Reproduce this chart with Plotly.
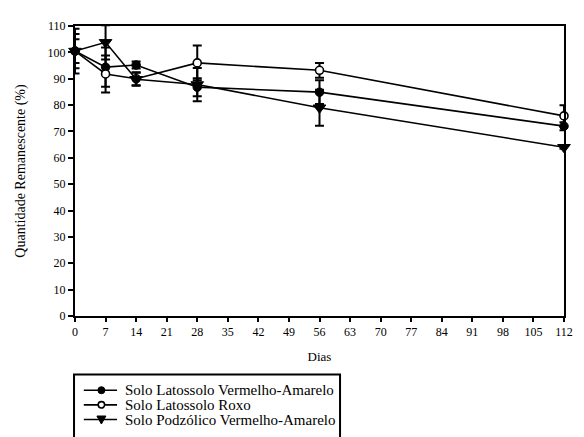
import plotly.graph_objects as go

dias = [0, 7, 14, 28, 56, 112]
tick_vals = list(range(0, 113, 7))

nomes = ["Solo Latossolo Vermelho-Amarelo", "Solo Latossolo Roxo", "Solo Podzólico Vermelho-Amarelo"]

lva = [100.5, 94.4, 95.2, 86.8, 84.9, 72.0]
lva_err = [6.5, 7.4, 1.3, 3.4, 4.5, 1.5]

lr = [100.5, 91.8, 90.0, 96.0, 93.2, 75.9]
lr_err = [4.5, 7.0, 2.5, 6.6, 2.8, 4.0]

pva = [100.5, 103.8, 89.8, 87.8, 79.0, 64.0]
pva_err = [8.5, 6.5, 2.5, 6.3, 6.8, 0.6]

FONT = "Liberation Serif, Times New Roman, serif"

fig = go.Figure()

styles = [
    dict(symbol="circle", size=8.5, color="black", line=dict(color="black", width=1)),
    dict(symbol="circle", size=8, color="white", line=dict(color="black", width=1.6)),
    dict(symbol="triangle-down", size=11, color="black", line=dict(color="black", width=1)),
]

for name, ys, errs, mk in zip(nomes, [lva, lr, pva], [lva_err, lr_err, pva_err], styles):
    fig.add_trace(go.Scatter(
        x=dias, y=ys, name=name, mode="lines+markers",
        line=dict(color="black", width=1.6),
        marker=mk,
        error_y=dict(type="data", array=errs, visible=True, color="black", thickness=2, width=4.5),
        cliponaxis=False, showlegend=False,
    ))

# Page has an 8px body offset; figure is sized so the plot lands where the reference's does.
W, H = 576, 429
ML, MR, MT, MB = 63, 13, 11, 121
PW = W - ML - MR
PH = H - MT - MB


def px_x(px):
    # page x pixel -> paper x
    return (px - 8 - ML) / PW


def px_y(py):
    # page y pixel -> paper y
    return ((H - MB) - (py - 8)) / PH


shapes = []
annotations = []

# legend box (cut off by bottom of page, as in the reference)
shapes.append(dict(type="rect", xref="paper", yref="paper",
                   x0=px_x(70), x1=px_x(342), y0=px_y(450), y1=px_y(376),
                   line=dict(color="black", width=2), fillcolor="white", layer="above"))

rows_y = [392, 407, 422]
line_x0, line_x1, mark_x, text_x = 80, 114, 98, 120
for i, (name, ry) in enumerate(zip(nomes, rows_y)):
    yy = px_y(ry)
    shapes.append(dict(type="line", xref="paper", yref="paper",
                       x0=px_x(line_x0), x1=px_x(line_x1), y0=yy, y1=yy,
                       line=dict(color="black", width=1.6), layer="above"))
    if i == 0:
        shapes.append(dict(type="circle", xref="paper", yref="paper",
                           xsizemode="pixel", ysizemode="pixel",
                           xanchor=px_x(mark_x), yanchor=yy,
                           x0=-3.5, x1=3.5, y0=-3.5, y1=3.5,
                           line=dict(color="black", width=1), fillcolor="black", layer="above"))
    elif i == 1:
        shapes.append(dict(type="circle", xref="paper", yref="paper",
                           xsizemode="pixel", ysizemode="pixel",
                           xanchor=px_x(mark_x), yanchor=yy,
                           x0=-3.2, x1=3.2, y0=-3.2, y1=3.2,
                           line=dict(color="black", width=1.6), fillcolor="white", layer="above"))
    else:
        shapes.append(dict(type="path", xref="paper", yref="paper",
                           xsizemode="pixel", ysizemode="pixel",
                           xanchor=px_x(mark_x), yanchor=yy,
                           path="M -4.5,3.5 L 4.5,3.5 L 0,-4.5 Z",
                           line=dict(color="black", width=1), fillcolor="black", layer="above"))
    annotations.append(dict(xref="paper", yref="paper", x=px_x(text_x), y=yy,
                            xanchor="left", yanchor="middle", text=name, showarrow=False,
                            font=dict(family=FONT, size=15, color="black")))

fig.update_layout(
    width=W, height=H,
    margin=dict(l=ML, r=MR, t=MT, b=MB),
    paper_bgcolor="white", plot_bgcolor="white",
    font=dict(family=FONT, size=12, color="black"),
    showlegend=False,
    shapes=shapes,
    annotations=annotations,
    xaxis=dict(
        range=[0, 112], tickmode="array", tickvals=tick_vals,
        ticktext=[str(v) for v in tick_vals],
        showgrid=False, zeroline=False,
        showline=True, linecolor="black", linewidth=2, mirror=True,
        ticks="outside", ticklen=4, tickwidth=2, tickcolor="black",
        title=dict(text="Dias", font=dict(family=FONT, size=13), standoff=13),
        tickfont=dict(family=FONT, size=12),
        automargin=True,
    ),
    yaxis=dict(
        range=[0, 110], tickmode="linear", tick0=0, dtick=10,
        showgrid=False, zeroline=False,
        showline=True, linecolor="black", linewidth=2, mirror=True,
        ticks="outside", ticklen=5, tickwidth=2, tickcolor="black",
        title=dict(text="Quantidade Remanescente (%)", font=dict(family=FONT, size=14), standoff=19),
        tickfont=dict(family=FONT, size=12),
        automargin=True,
    ),
)

fig.write_html("out.html")
